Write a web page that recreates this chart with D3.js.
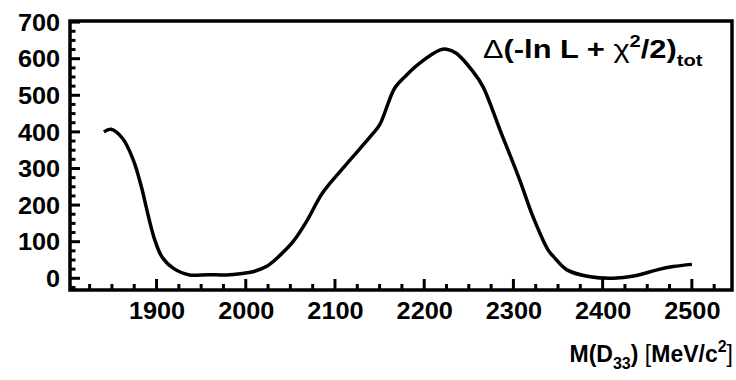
<!DOCTYPE html>
<html>
<head>
<meta charset="utf-8">
<script src="https://cdn.jsdelivr.net/npm/d3@7"></script>
<style>
  body { margin: 0; background: #fff; }
  svg text { font-family: "Liberation Sans", Arial, sans-serif; font-weight: bold; }
</style>
</head>
<body>
<svg id="chart" width="736" height="380"></svg>
<script>
// curve: mass (MeV/c^2) vs delta log-likelihood
const mass = [1841, 1849, 1862, 1874, 1883, 1891, 1898, 1906, 1919, 1937, 1958, 1978, 1996, 2008,
  2023, 2038, 2053, 2068, 2086, 2109, 2141, 2150, 2167, 2180, 2195, 2218, 2225, 2236, 2255,
  2266, 2285, 2307, 2322, 2339, 2345, 2360, 2386, 2412, 2435, 2461, 2479, 2500];
const deltaL = [400, 407, 382, 323, 250, 168, 105, 59, 27, 9, 10, 9, 13, 18,
  32, 62, 100, 155, 233, 301, 391, 419, 520, 555, 588, 624, 626, 615, 564,
  523, 405, 269, 168, 77, 59, 23, 4, 0, 6, 23, 32, 38];
const xTicks = [1900, 2000, 2100, 2200, 2300, 2400, 2500];
const yTicks = [0, 100, 200, 300, 400, 500, 600, 700];

const svg = d3.select('#chart');
const frame = {left: 70, right: 732, top: 21, bottom: 290};

const x = d3.scaleLinear().domain([1803, 2545]).range([frame.left, frame.right]);
const y = d3.scaleLinear().domain([-32, 703]).range([frame.bottom, frame.top]);

// minor ticks every 25
const xMinor = d3.range(1825, 2545, 25).filter(v => v % 100 !== 0);
const yMinor = d3.range(-25, 703, 25).filter(v => v % 100 !== 0);

const g = svg.append('g');

// tick labels through d3 axes, tick marks drawn by hand (pointing inward)
g.append('g')
  .attr('transform', 'translate(0,' + frame.bottom + ')')
  .call(d3.axisBottom(x).tickValues(xTicks).tickSize(0).tickFormat(d3.format('d')))
  .call(s => s.select('.domain').remove())
  .selectAll('text')
  .attr('fill', '#000')
  .attr('font-size', 23)
  .attr('y', 29)
  .attr('dy', 0)
  .attr('transform', 'scale(1.1,1)');

g.append('g')
  .attr('transform', 'translate(' + frame.left + ',0)')
  .call(d3.axisLeft(y).tickValues(yTicks).tickSize(0).tickFormat(d3.format('d')))
  .call(s => s.select('.domain').remove())
  .selectAll('text')
  .attr('fill', '#000')
  .attr('font-size', 23)
  .attr('x', -9)
  .attr('dy', '0.36em')
  .attr('transform', 'scale(1.1,1)');

const ticks = g.append('g').attr('stroke', '#000').attr('stroke-width', 3);
ticks.selectAll('.xt')
  .data(xTicks.map(v => ({v, len: 11})).concat(xMinor.map(v => ({v, len: 6}))))
  .join('line')
  .attr('x1', d => x(d.v)).attr('x2', d => x(d.v))
  .attr('y1', frame.bottom).attr('y2', d => frame.bottom - d.len);
ticks.selectAll('.yt')
  .data(yTicks.map(v => ({v, len: 10})).concat(yMinor.map(v => ({v, len: 5.5}))))
  .join('line')
  .attr('y1', d => y(d.v)).attr('y2', d => y(d.v))
  .attr('x1', frame.left).attr('x2', d => frame.left + d.len);

// frame
g.append('rect')
  .attr('x', frame.left).attr('y', frame.top)
  .attr('width', frame.right - frame.left).attr('height', frame.bottom - frame.top)
  .attr('fill', 'none').attr('stroke', '#000').attr('stroke-width', 3.5);

const line = d3.line()
  .curve(d3.curveCatmullRom.alpha(0.5))
  .x((d, i) => x(mass[i]))
  .y(d => y(d));

g.append('path')
  .datum(deltaL)
  .attr('fill', 'none')
  .attr('stroke', '#000')
  .attr('stroke-width', 3.5)
  .attr('stroke-linejoin', 'round')
  .attr('d', line);

// title inside the frame, stretched to the width it has in the picture
const titleG = svg.append('g').attr('transform', 'translate(483,58)');
const title = titleG.append('text').attr('x', 0).attr('y', 0).attr('font-size', 26);
title.append('tspan').attr('font-weight', 'normal').text('\u0394');
title.append('tspan').text('(-ln L + ');
title.append('tspan').attr('font-weight', 'normal').text('\u03c7');
title.append('tspan').attr('font-size', 17).attr('dy', -11).text('2');
title.append('tspan').attr('dy', 11).text('/2)');
title.append('tspan').attr('font-size', 17).attr('dy', 8).text('tot');
const tw = title.node().getBBox().width;
title.attr('transform', 'scale(' + (220 / tw) + ',1)');

// x axis title
const xt = svg.append('text').attr('x', 733).attr('y', 362)
  .attr('text-anchor', 'end').attr('font-size', 23);
xt.append('tspan').text('M(D');
xt.append('tspan').attr('font-size', 16).attr('dy', 7).text('33');
xt.append('tspan').attr('dy', -7).text(') ');
xt.append('tspan').attr('font-weight', 'normal').text('[');
xt.append('tspan').text('MeV/c');
xt.append('tspan').attr('font-size', 16).attr('dy', -10).text('2');
xt.append('tspan').attr('dy', 10).attr('font-weight', 'normal').text(']');
</script>
</body>
</html>
